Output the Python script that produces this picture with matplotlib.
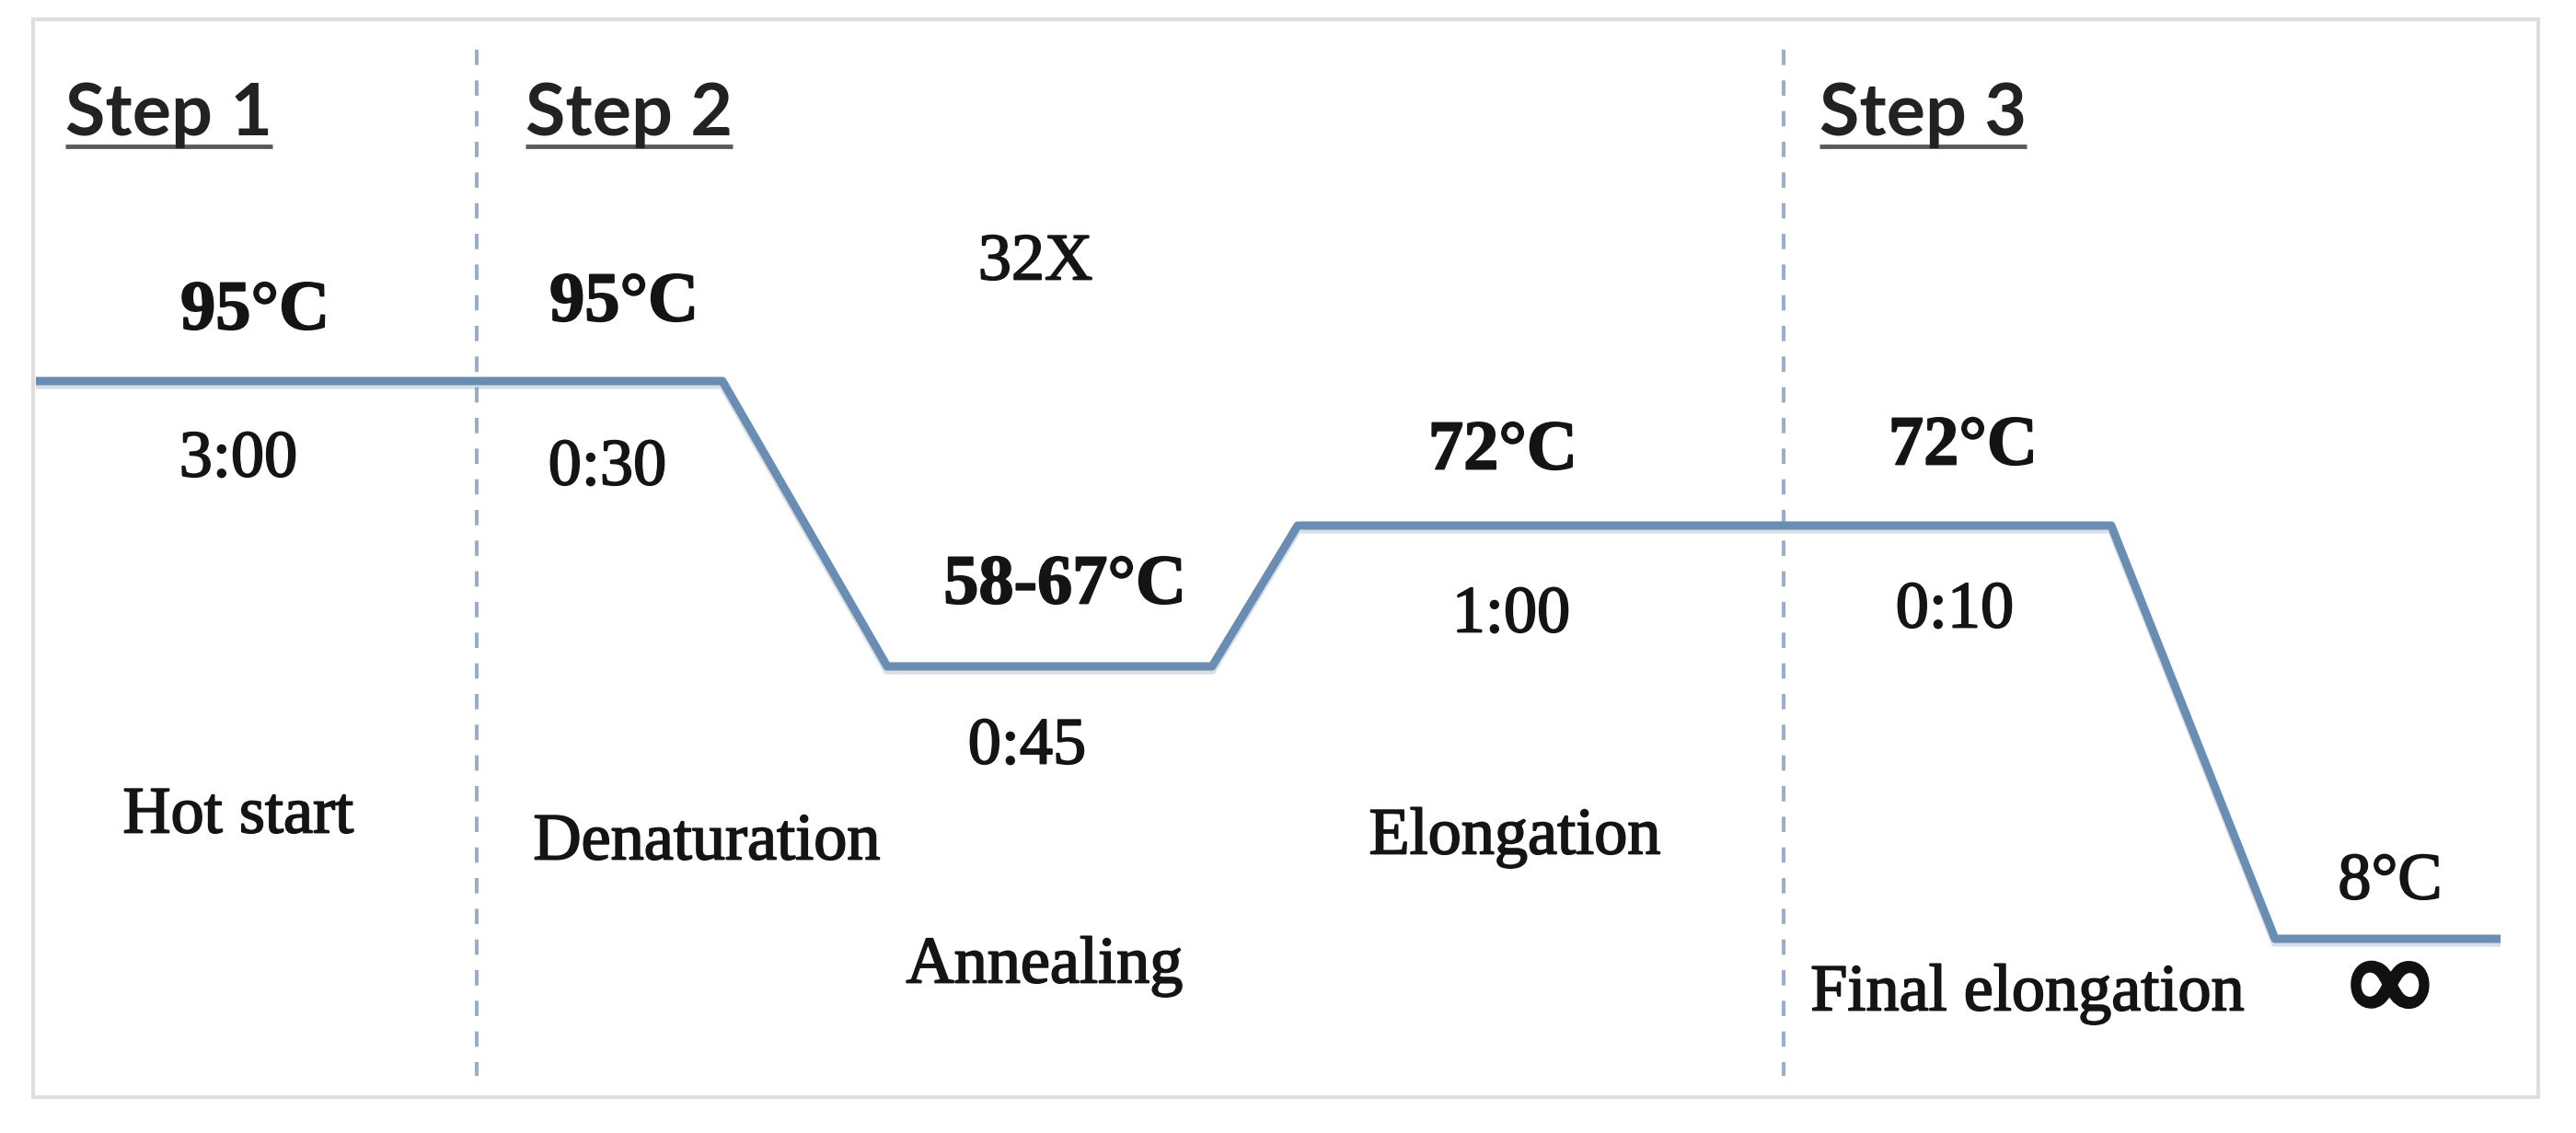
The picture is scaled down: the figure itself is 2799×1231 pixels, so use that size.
import matplotlib
matplotlib.use("Agg")
import matplotlib.pyplot as plt
import matplotlib.patheffects as pe
from matplotlib.patches import Rectangle

# temperature profile (schematic, picture coordinates)
profile_x = [39, 785, 964, 1317, 1410, 2294, 2472, 2717]
profile_y = [414, 414, 724, 724, 571, 571, 1020, 1020]

# section dividers
divider_x = [518, 1938]

# step headings
step_labels = ["Step 1", "Step 2", "Step 3"]
step_x = [71, 571, 1977]

# temperatures (bold)
temp_labels = ["95°C", "95°C", "58-67°C", "72°C", "72°C"]
temp_pos = [(277, 339), (678, 330), (1157, 637), (1633, 491), (2133, 486)]

# hold times / notes (regular)
note_labels = ["32X", "3:00", "0:30", "0:45", "1:00", "0:10", "8°C",
               "Hot start", "Denaturation", "Annealing", "Elongation",
               "Final elongation"]
note_pos = [(1125, 286), (259, 500), (660, 509), (1116, 812), (1642, 669),
            (2124, 664), (2597, 959), (259, 887), (768, 916), (1135, 1050),
            (1646, 910), (2203, 1080)]

W, H = 2799, 1231
fig = plt.figure(figsize=(W / 100, H / 100), dpi=100)
ax = fig.add_axes([0, 0, 1, 1])
ax.set_xlim(0, W)
ax.set_ylim(H, 0)
ax.axis("off")

# outer frame
ax.add_patch(Rectangle((36, 21), 2722, 1171, fill=False, edgecolor="#dedede", lw=3))

for x in divider_x:
    ax.plot([x, x], [54, 1169], color="#9aafc6", lw=3, dashes=(4, 4))

ax.plot(profile_x, profile_y, color="#6a8db4", lw=6.5, solid_joinstyle="round",
        solid_capstyle="butt",
        path_effects=[pe.SimpleLineShadow(offset=(0, -3), shadow_color="#8aa3bd", alpha=0.35),
                      pe.Normal()])

heavy = [pe.withStroke(linewidth=1.3, foreground="#141414")]
serif = "Liberation Serif"
for lab, (x, y) in zip(temp_labels, temp_pos):
    ax.text(x, y, lab, family=serif, weight="bold", fontsize=55, ha="center",
            va="center", color="#141414", path_effects=heavy)
for lab, (x, y) in zip(note_labels, note_pos):
    ax.text(x, y, lab, family=serif, fontsize=52, ha="center", va="center",
            color="#141414", path_effects=heavy)

ax.text(2597, 1076, "∞", family=serif, weight="bold", fontsize=86, ha="center",
        va="center", color="#111111",
        path_effects=[pe.withStroke(linewidth=5, foreground="#111111")])

steps = []
for lab, x in zip(step_labels, step_x):
    steps.append(ax.text(x, 147, lab, family="Lato", weight="bold", fontsize=57,
                         ha="left", va="baseline", color="#222222"))

# underline the step headings
fig.canvas.draw()
r = fig.canvas.get_renderer()
inv = ax.transData.inverted()
for t in steps:
    bb = t.get_window_extent(renderer=r)
    x0, _ = inv.transform((bb.x0, 0))
    x1, _ = inv.transform((bb.x1, 0))
    ax.plot([x0, x1], [159, 159], color="#5a5a5a", lw=3.5, solid_capstyle="butt")

fig.savefig("out.png", dpi=100, facecolor="white")
